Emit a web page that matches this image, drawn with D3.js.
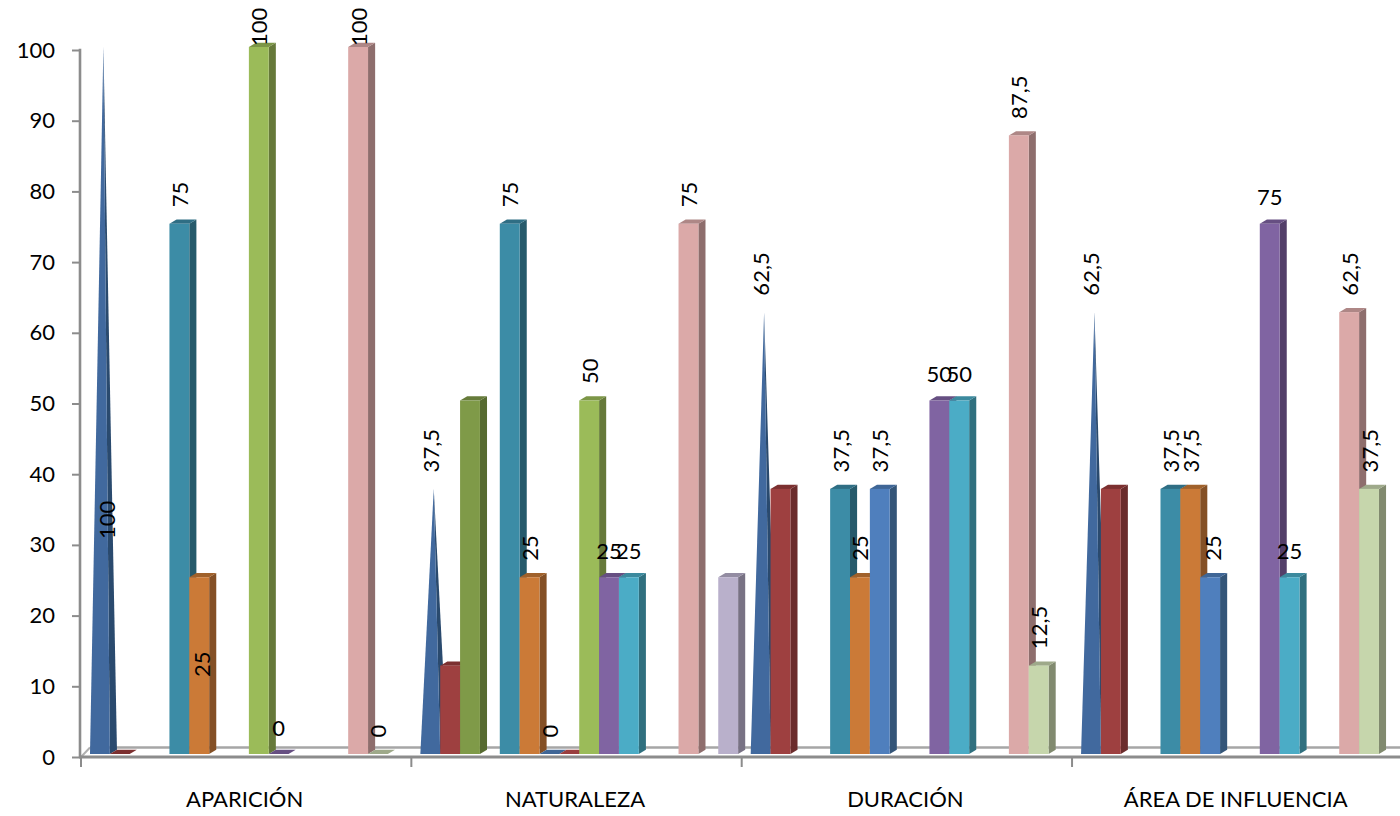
<!DOCTYPE html>
<html lang="es">
<head>
<meta charset="utf-8">
<title>Gráfico de barras 3D</title>
<script src="https://cdn.jsdelivr.net/npm/d3@7/dist/d3.min.js"></script>
<style>
  html, body { margin: 0; padding: 0; background: #fff; }
  svg { display: block; }
  text { font-family: Lato, "Open Sans", sans-serif; fill: #000; }
</style>
</head>
<body>
<svg id="chart" width="1400" height="816"></svg>
<script>
// Categories and value axis
const categories = ["APARICIÓN", "NATURALEZA", "DURACIÓN", "ÁREA DE INFLUENCIA"];
const yTicks = [0, 10, 20, 30, 40, 50, 60, 70, 80, 90, 100];

// One list per series, in cluster order; null means the series has no bar there
const serie1  = [100, 37.5, 62.5, 62.5];
const serie2  = [0, 12.5, 37.5, 37.5];
const serie3  = [null, 50, null, null];
const serie4  = [null, null, null, null];
const serie5  = [75, 75, 37.5, 37.5];
const serie6  = [25, 25, 25, 37.5];
const serie7  = [null, 0, 37.5, 25];
const serie8  = [null, 0, null, null];
const serie9  = [100, 50, null, null];
const serie10 = [0, 25, 50, 75];
const serie11 = [null, 25, 50, 25];
const serie12 = [null, null, null, null];
const serie13 = [null, null, null, null];
const serie14 = [100, 75, 87.5, 62.5];
const serie15 = [0, null, 12.5, 37.5];
const serie16 = [null, 25, null, null];

const seriesValues = [serie1, serie2, serie3, serie4, serie5, serie6, serie7, serie8,
                      serie9, serie10, serie11, serie12, serie13, serie14, serie15, serie16];

// Face colours per series: front, side, top
const seriesColors = [
  ["#41699e", "#2a4a6e", "#35587f"], ["#9e4040", "#6b2c2c", "#7c3030"],
  ["#7f9a48", "#566a30", "#667b3a"], ["#4f81bd", "#345578", "#3f6896"],
  ["#3c8ca6", "#265a6b", "#2f6e84"], ["#cb7a37", "#845026", "#a0612b"],
  ["#4f7fbd", "#345578", "#3f6696"], ["#9e4040", "#6b2c2c", "#9a3e3e"],
  ["#9bbb59", "#66793a", "#7c9647"], ["#8064a2", "#533f69", "#664f82"],
  ["#4bacc6", "#30707f", "#3c8a9e"], ["#f79646", "#a5652f", "#c67838"],
  ["#aabad7", "#6f798c", "#8895ac"], ["#dba9a8", "#8e6e6d", "#ae8786"],
  ["#c6d6ac", "#818a6f", "#9ea98a"], ["#b9b0cb", "#787284", "#938ca2"]
];

// Data label treatment, as "series:category" keys
const hiddenLabels = ["1:0", "1:1", "1:2", "1:3", "2:1", "7:1", "15:1"];
const horizontalLabels = ["9:0", "9:1", "10:1", "9:2", "10:2", "9:3", "10:3"];
const labelLiftAboveFloor = { "0:0": 215, "5:0": 77 };
const labelNudgeX = { "0:0": 7, "5:0": 2, "6:3": 2 };
const conicalSeries = [0];

const svg = d3.select("#chart");

const y = d3.scaleLinear().domain([0, 100]).range([757, 50]);
const floorDrop = 3, depthX = 7.1, depthY = 4.2;
const barTop = v => y(v) - floorDrop;

const x0 = d3.scaleBand().domain(categories).range([81, 1402.4]);
const x1 = d3.scaleBand().domain(d3.range(seriesValues.length)).range([9, 9 + 16 * 19.86]);

// Back edge of the floor and the floor's left side
const axisGrey = "#8c8c8c";
svg.append("line").attr("x1", 90).attr("x2", 1400).attr("y1", 747.5).attr("y2", 747.5)
  .attr("stroke", "#a6a6a6").attr("stroke-width", 2.6);
svg.append("line").attr("x1", 81).attr("x2", 90).attr("y1", 757).attr("y2", 747.5)
  .attr("stroke", "#b0b0b0").attr("stroke-width", 2);

// Bars, painted left to right so each one covers its neighbour's side face
const bars = [];
categories.forEach((c, ci) => {
  seriesValues.forEach((vals, si) => {
    if (vals[ci] !== null) bars.push({ c, ci, si, v: vals[ci] });
  });
});

const poly = pts => pts.map(p => p.join(",")).join(" ");
const barLayer = svg.append("g");

bars.forEach(b => {
  const g = barLayer.append("g");
  const xl = x0(b.c) + x1(b.si), w = x1.bandwidth(), xr = xl + w;
  const base = y(0) - floorDrop, t = barTop(b.v);
  const [front, side, lid] = seriesColors[b.si];

  if (b.v === 0) {
    g.append("polygon").attr("fill", lid)
      .attr("points", poly([[xl, base], [xr, base], [xr + depthX, base - depthY], [xl + depthX, base - depthY]]));
    return;
  }
  if (conicalSeries.includes(b.si)) {
    const apex = [xl + 13.4, t];
    g.append("polygon").attr("fill", side)
      .attr("points", poly([[xr, base], [xr + depthX, base - depthY], apex]));
    g.append("polygon").attr("fill", front)
      .attr("points", poly([[xl, base], [xr, base], apex]));
    return;
  }
  g.append("polygon").attr("fill", side)
    .attr("points", poly([[xr, base], [xr + depthX, base - depthY], [xr + depthX, t - depthY], [xr, t]]));
  g.append("polygon").attr("fill", lid)
    .attr("points", poly([[xl, t], [xr, t], [xr + depthX, t - depthY], [xl + depthX, t - depthY]]));
  g.append("rect").attr("x", xl).attr("y", t).attr("width", w).attr("height", base - t).attr("fill", front);
});

// Value axis
const yAxis = d3.axisLeft(y).tickValues(yTicks).tickSize(8).tickPadding(17);
const yg = svg.append("g").attr("transform", "translate(80,0)").call(yAxis);
yg.select(".domain").attr("stroke", axisGrey).attr("stroke-width", 2.6).attr("d", "M0,48.7V757");
yg.selectAll(".tick line").attr("stroke", axisGrey).attr("stroke-width", 2);
yg.selectAll(".tick text").attr("font-size", 22).style("font-family", "Lato");

// Category axis: tick marks fall on the band edges
const xg = svg.append("g");
xg.append("line").attr("x1", 79).attr("x2", 1400).attr("y1", y(0)).attr("y2", y(0))
  .attr("stroke", axisGrey).attr("stroke-width", 3);
xg.selectAll(".edge").data(categories).join("line").attr("class", "edge")
  .attr("x1", c => x0(c)).attr("x2", c => x0(c)).attr("y1", y(0)).attr("y2", 767)
  .attr("stroke", axisGrey).attr("stroke-width", 2);
xg.selectAll(".cat").data(categories).join("text").attr("class", "cat")
  .attr("x", c => x0(c) + x0.bandwidth() / 2 - 1.5).attr("y", 807)
  .attr("text-anchor", "middle").attr("font-size", 22).text(c => c);

// Data labels
const fmt = v => String(v).replace(".", ",");
const labelLayer = svg.append("g");
bars.forEach(b => {
  const key = b.si + ":" + b.ci;
  if (hiddenLabels.includes(key)) return;
  const cx = x0(b.c) + x1(b.si) + x1.bandwidth() / 2 + (labelNudgeX[key] || 0);
  const t = barTop(b.v);
  if (horizontalLabels.includes(key)) {
    labelLayer.append("text").attr("x", cx).attr("y", t - 18.5)
      .attr("text-anchor", "middle").attr("font-size", 22).text(fmt(b.v));
    return;
  }
  // Rotated labels read upwards and stop short of the bar's top, or of the chart's edge
  const lift = labelLiftAboveFloor[key];
  const anchorY = lift !== undefined ? y(0) - floorDrop - lift
    : b.v >= 100 ? 46 : t - 16.5;
  labelLayer.append("text")
    .attr("transform", `translate(${cx + 8.5},${anchorY}) rotate(-90)`)
    .attr("font-size", 22).text(fmt(b.v));
});
</script>
</body>
</html>
